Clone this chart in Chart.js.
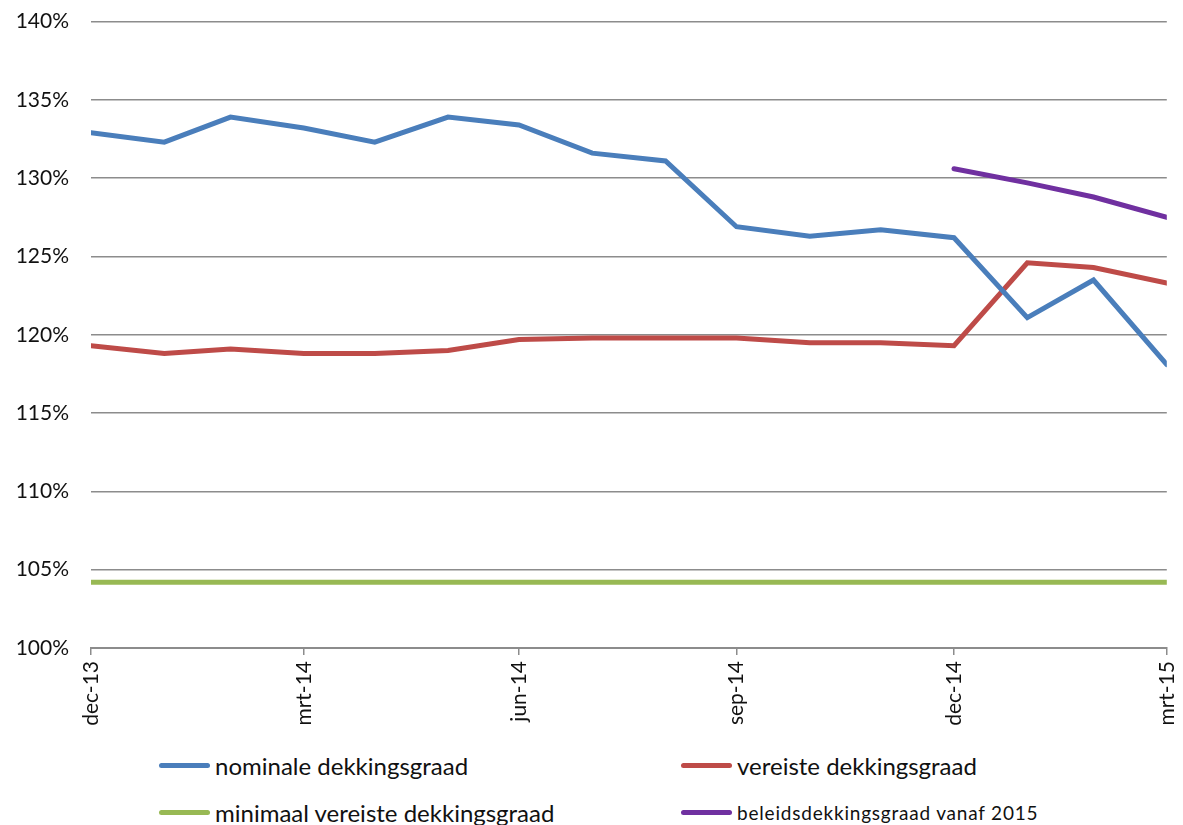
<!DOCTYPE html>
<html>
<head>
<meta charset="utf-8">
<script src="https://cdn.jsdelivr.net/npm/chart.js@4"></script>
<style>
  html, body { margin: 0; padding: 0; background: #fff; overflow: hidden; }
  .wrap { position: relative; width: 1183px; height: 825px; overflow: hidden; }
  .plot { position: absolute; left: 0; top: -13px; width: 1198px; height: 758px; }
  .legend-item { position: absolute; display: flex; align-items: center; font-family: Lato, "Open Sans", sans-serif; color: #111; white-space: nowrap; }
  .legend-item .swatch { width: 51px; height: 5px; border-radius: 3px; margin-right: 5px; }
</style>
</head>
<body>
<div class="wrap">
  <div class="plot"><canvas id="chart"></canvas></div>
  <div id="legend"></div>
</div>
<script>
// month-end dates of the observations
const dates = [
  "2013-12-31", "2014-01-31", "2014-02-28", "2014-03-31", "2014-04-30", "2014-05-31",
  "2014-06-30", "2014-07-31", "2014-08-31", "2014-09-30", "2014-10-31", "2014-11-30",
  "2014-12-31", "2015-01-31", "2015-02-28", "2015-03-31"
];
const months = [
  "dec-13", "jan-14", "feb-14", "mrt-14", "apr-14", "mei-14", "jun-14", "jul-14",
  "aug-14", "sep-14", "okt-14", "nov-14", "dec-14", "jan-15", "feb-15", "mrt-15"
];
const tickIndexes = [0, 3, 6, 9, 12, 15];

const nominale = [132.9, 132.3, 133.9, 133.2, 132.3, 133.9, 133.4, 131.6, 131.1, 126.9, 126.3, 126.7, 126.2, 121.1, 123.5, 118.1];
const vereiste = [119.3, 118.8, 119.1, 118.8, 118.8, 119.0, 119.7, 119.8, 119.8, 119.8, 119.5, 119.5, 119.3, 124.6, 124.3, 123.3];
const minimaal = [104.2, 104.2, 104.2, 104.2, 104.2, 104.2, 104.2, 104.2, 104.2, 104.2, 104.2, 104.2, 104.2, 104.2, 104.2, 104.2];
const beleids = [null, null, null, null, null, null, null, null, null, null, null, null, 130.6, 129.7, 128.8, 127.5];

const seriesNames = ["nominale dekkingsgraad", "vereiste dekkingsgraad", "minimaal vereiste dekkingsgraad", "beleidsdekkingsgraad vanaf 2015"];
const colors = ["#4a7ebb", "#be4b48", "#98b954", "#7030a0"];

// x position = days since first observation (Excel date axis)
const day0 = Date.parse(dates[0]);
const days = dates.map((d) => Math.round((Date.parse(d) - day0) / 86400000));

const toPoints = (vals) => vals.map((v, i) => ({ x: days[i], y: v }));

const gridColor = "#8c8c8c";
const tickFont = { family: "Lato, 'Open Sans', sans-serif", size: 21 };

new Chart(document.getElementById("chart"), {
  type: "line",
  data: {
    datasets: [nominale, vereiste, minimaal, beleids].map((vals, i) => ({
      label: seriesNames[i],
      data: toPoints(vals),
      borderColor: colors[i],
      backgroundColor: colors[i],
      borderWidth: 5,
      pointRadius: 0,
      tension: 0,
      spanGaps: false,
      borderCapStyle: "round",
    })),
  },
  options: {
    responsive: true,
    maintainAspectRatio: false,
    animation: false,
    layout: { padding: { top: 8, right: 0, left: 0, bottom: 0 } },
    plugins: {
      legend: { display: false },
      tooltip: { enabled: false },
    },
    scales: {
      x: {
        type: "linear",
        min: days[0],
        max: days[days.length - 1],
        afterBuildTicks: (scale) => {
          scale.ticks = tickIndexes.map((i) => ({ value: days[i] }));
        },
        afterFit: (scale) => { scale.height = 97; },
        ticks: {
          autoSkip: false,
          minRotation: 90,
          maxRotation: 90,
          padding: 6,
          color: "#111",
          font: tickFont,
          callback: (value) => {
            const i = days.indexOf(value);
            return i >= 0 ? months[i] : "";
          },
        },
        grid: {
          drawOnChartArea: false,
          drawTicks: true,
          tickLength: 7,
          color: gridColor,
          lineWidth: 1.5,
        },
        border: { display: true, color: gridColor, width: 2 },
      },
      y: {
        min: 100,
        max: 140,
        afterFit: (scale) => { scale.width = 91; },
        ticks: {
          stepSize: 5,
          padding: 22,
          color: "#111",
          font: tickFont,
          callback: (v) => v + "%",
        },
        grid: {
          color: gridColor,
          lineWidth: 1.5,
          drawTicks: false,
        },
        border: { display: false },
      },
    },
  },
});

// legend, two columns under the chart
const legendPos = [
  { left: 159, top: 765, size: 24, spacing: 0 },
  { left: 681, top: 765, size: 24, spacing: 0 },
  { left: 159, top: 812, size: 24, spacing: 0 },
  { left: 681, top: 812, size: 19, spacing: 0.8 },
];
const legend = document.getElementById("legend");
seriesNames.forEach((name, i) => {
  const item = document.createElement("div");
  item.className = "legend-item";
  item.style.left = legendPos[i].left + "px";
  item.style.top = (legendPos[i].top - 15) + "px";
  item.style.height = "30px";
  item.style.fontSize = legendPos[i].size + "px";
  item.style.letterSpacing = legendPos[i].spacing + "px";
  const sw = document.createElement("span");
  sw.className = "swatch";
  sw.style.background = colors[i];
  const label = document.createElement("span");
  label.textContent = name;
  item.appendChild(sw);
  item.appendChild(label);
  legend.appendChild(item);
});
</script>
</body>
</html>
